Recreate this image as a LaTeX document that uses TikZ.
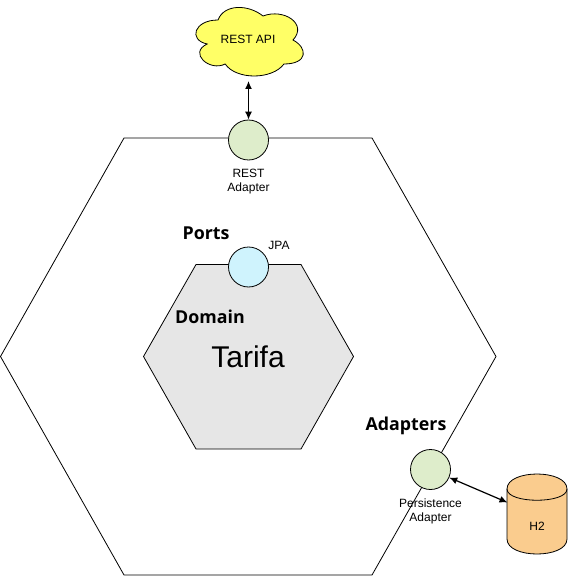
\documentclass[tikz,border=0pt]{standalone}
\usepackage{fontspec}
\setmainfont{Liberation Sans}
\newfontfamily\headfont{Open Sans}
\usepackage{xcolor}
\usetikzlibrary{arrows.meta}
\definecolor{adaptergreen}{HTML}{DEEDCB}
\definecolor{portblue}{HTML}{CFF3FD}
\definecolor{domaingray}{HTML}{E6E6E6}
\definecolor{dborange}{HTML}{FACC8E}
\definecolor{apiyellow}{HTML}{FFFF66}
\tikzset{
	adapter/.style={draw,circle,fill=adaptergreen,minimum size=40pt,inner sep=0pt},
	port/.style={draw,circle,fill=portblue,minimum size=40pt,inner sep=0pt},
	caption/.style={align=center,font=\fontsize{12}{14}\selectfont},
	heading/.style={font=\fontsize{17.8}{21}\headfont\bfseries},
	link/.style={{Latex[length=8pt,width=7pt]}-{Latex[length=8pt,width=7pt]},line width=1.2pt}
}
\begin{document}
\begin{tikzpicture}[x=1pt,y=-1pt,line width=0.8pt]
	\useasboundingbox (0,0) rectangle (568,577);
	\draw (0.5,356.5) -- (124,138) -- (372,138) -- (496,356.5) -- (372,575) -- (124,575) -- cycle;
	\draw [fill=domaingray] (143.5,356.5) -- (196,264.5) -- (301,264.5) -- (353.5,356.5) -- (301,449) -- (196,449) -- cycle;
	\node [heading] (ports) at (206,233) {Ports};
	\node [heading] (domain) at (210,316.5) {Domain};
	\node [heading] (adapters) at (406,426) {Adapters};
	\node [font=\fontsize{30}{36}\selectfont] (tarifa) at (248,357) {Tarifa};
	\node [port] (jpa) at (248.5,267) {};
	\node [caption] (jpalabel) at (279,245) {JPA};
	\node [adapter] (rest) at (248.5,140) {};
	\node [caption] (restlabel) at (248.5,182) {REST\\Adapter};
	\node [adapter] (persistence) at (430.5,469.5) {};
	\node [caption] (persistencelabel) at (430.5,511) {Persistence\\Adapter};
	% cloud outline, in percent of its box
	\begin{scope}[shift={(188,0)},x=1.2pt,y=-0.8pt]
		\draw [fill=apiyellow] (25,25) .. controls (5,25) and (0,50) .. (16,55)
			.. controls (0,66) and (18,90) .. (31,80)
			.. controls (40,100) and (70,100) .. (80,80)
			.. controls (100,80) and (100,60) .. (87.5,50)
			.. controls (100,30) and (80,10) .. (62.5,20)
			.. controls (50,5) and (30,5) .. (25,25) -- cycle;
	\end{scope}
	\node [caption] (api) at (248,39.5) {REST API};
	\coordinate (apibase) at (248.5,81);
	% database drum
	\draw [fill=dborange] (507,489) .. controls (507,469) and (567,469) .. (567,489) -- (567,539)
		.. controls (567,559) and (507,559) .. (507,539) -- cycle;
	\draw (507,489) .. controls (507,504) and (567,504) .. (567,489);
	\node [caption] (h2) at (537,526) {H2};
	\coordinate (h2edge) at (507.5,502.5);
	\draw [link] (apibase) -- (rest);
	\draw [link] (persistence) -- (h2edge);
\end{tikzpicture}
\end{document}
